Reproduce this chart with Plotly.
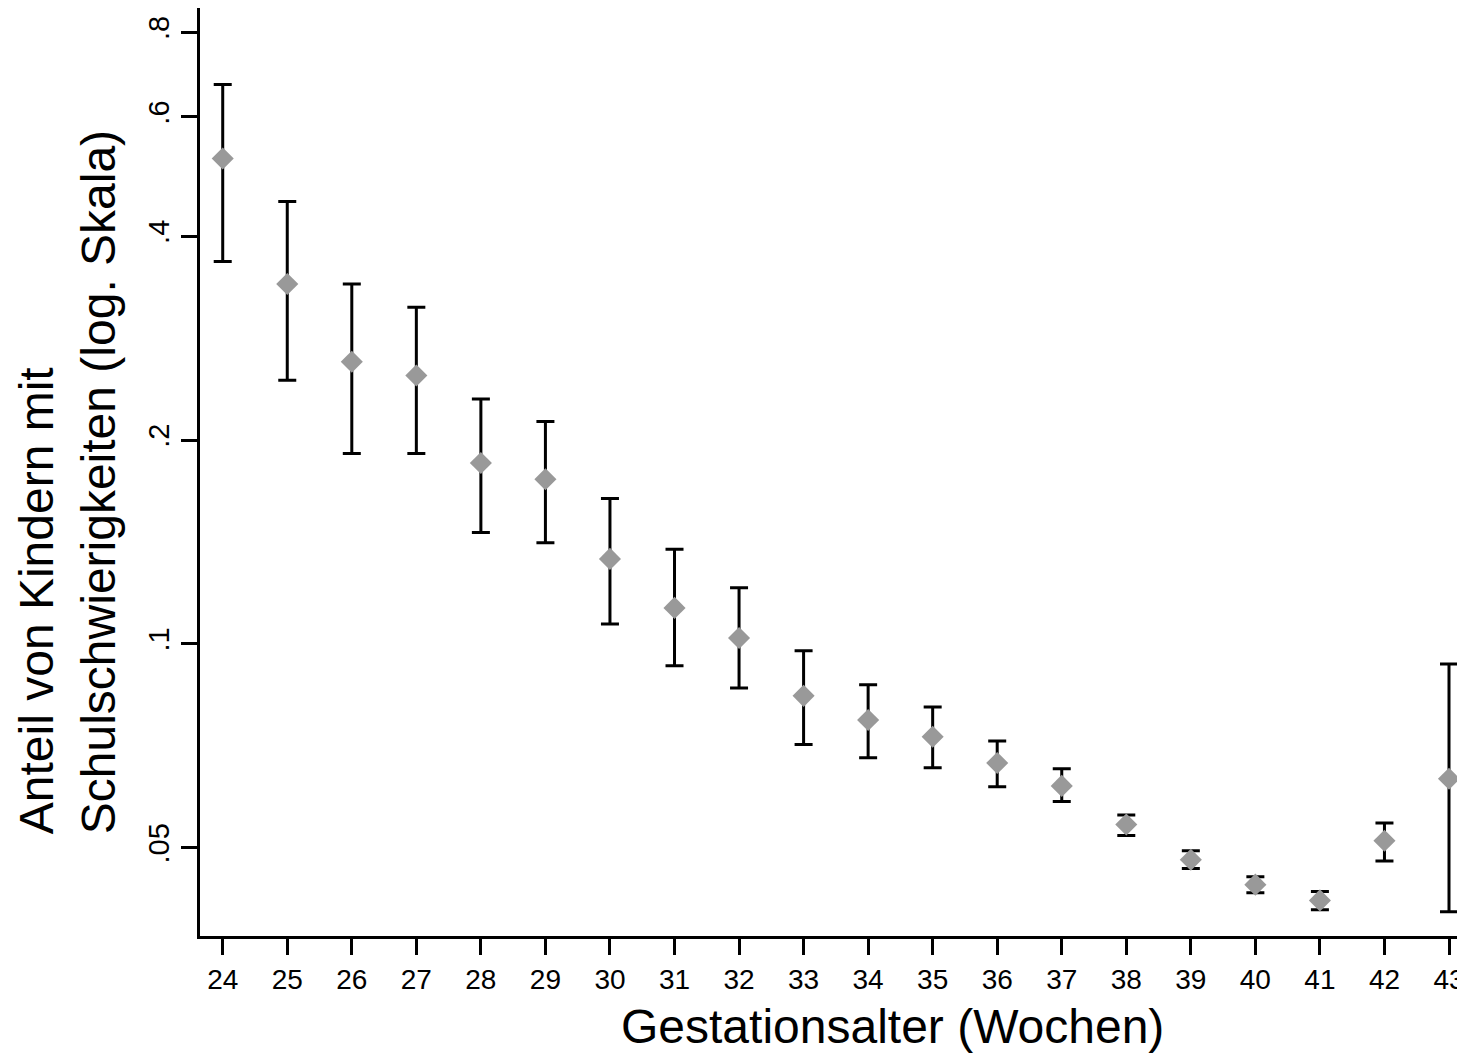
import plotly.graph_objects as go

weeks = [24, 25, 26, 27, 28, 29, 30, 31, 32, 33, 34, 35, 36, 37, 38, 39, 40, 41, 42, 43]
share = [0.521, 0.340, 0.261, 0.249, 0.185, 0.175, 0.1335, 0.113, 0.102, 0.0838,
         0.0772, 0.0729, 0.0667, 0.0617, 0.0541, 0.0480, 0.0441, 0.0418, 0.0512, 0.0632]
upper = [0.670, 0.450, 0.340, 0.314, 0.230, 0.213, 0.164, 0.138, 0.121, 0.0977,
         0.0870, 0.0807, 0.0719, 0.0654, 0.0559, 0.0495, 0.0453, 0.0431, 0.0544, 0.0934]
lower = [0.367, 0.245, 0.191, 0.191, 0.146, 0.141, 0.107, 0.0928, 0.0861, 0.0710,
         0.0679, 0.0656, 0.0615, 0.0585, 0.0521, 0.0466, 0.0429, 0.0405, 0.0478, 0.0402]

y_tickvals = [0.05, 0.1, 0.2, 0.4, 0.6, 0.8]
y_ticktext = [".05", ".1", ".2", ".4", ".6", ".8"]

err_plus = [u - v for u, v in zip(upper, share)]
err_minus = [v - l for v, l in zip(share, lower)]

FONT = "Liberation Sans, Arial, sans-serif"

fig = go.Figure()
fig.add_trace(go.Scatter(
    x=weeks, y=share, mode="markers",
    marker=dict(symbol="diamond", size=17, color="#999999", line=dict(width=0)),
    error_y=dict(type="data", symmetric=False, array=err_plus, arrayminus=err_minus,
                 color="black", thickness=3, width=9),
    showlegend=False, cliponaxis=True,
))

fig.update_layout(
    width=1457, height=1054,
    margin=dict(l=200, r=0, t=8, b=118, autoexpand=False),
    paper_bgcolor="white", plot_bgcolor="white",
    font=dict(family=FONT, color="black"),
    xaxis=dict(
        range=[23.648, 43.124], tickmode="array", tickvals=weeks,
        ticktext=[str(w) for w in weeks], ticklabeloverflow="allow", automargin=False,
        showgrid=False, zeroline=False, showline=True, linecolor="black", linewidth=3,
        ticks="outside", ticklen=16, tickwidth=3, tickcolor="black",
        tickfont=dict(size=28, family=FONT, color="black"),
    ),
    yaxis=dict(
        type="log", range=[-1.4314, -0.0610], tickmode="array",
        tickvals=y_tickvals, ticktext=y_ticktext, tickangle=-90, automargin=False,
        showgrid=False, zeroline=False, showline=True, linecolor="black", linewidth=3,
        ticks="outside", ticklen=16, tickwidth=3, tickcolor="black",
        tickfont=dict(size=29, family=FONT, color="black"),
    ),
    annotations=[
        dict(text="Anteil von Kindern mit<br>Schulschwierigkeiten (log. Skala)",
             xref="paper", yref="paper", x=-0.1058, y=0.489,
             xanchor="center", yanchor="middle", textangle=-90, align="left",
             showarrow=False, font=dict(size=48, family=FONT, color="black")),
        dict(text="Gestationsalter (Wochen)",
             xref="paper", yref="paper", x=0.5509, y=-0.097,
             xanchor="center", yanchor="middle", showarrow=False,
             font=dict(size=48, family=FONT, color="black")),
    ],
)

fig.write_html("out.html", config={"displayModeBar": False},
               post_script="document.body.style.margin='0';document.body.style.overflow='hidden';")
